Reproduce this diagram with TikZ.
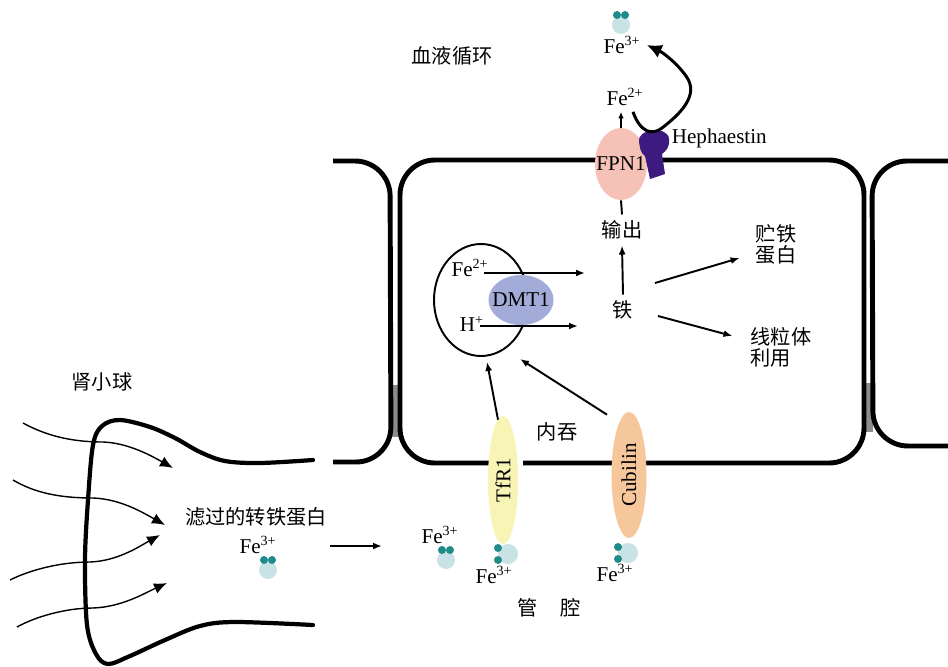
\documentclass[tikz,border=0pt]{standalone}
\usepackage{fontspec}
\setmainfont{Liberation Serif}
\newfontfamily\cjk{Noto Sans CJK SC}
\usetikzlibrary{arrows.meta,shapes.geometric}

\definecolor{fpnpink}{HTML}{F6C2B8}
\definecolor{dmtblue}{HTML}{A3ACD8}
\definecolor{tfryellow}{HTML}{F8F4B6}
\definecolor{cuborange}{HTML}{F7C79C}
\definecolor{hephpurple}{HTML}{3C1A80}
\definecolor{ironteal}{HTML}{1F8C89}
\definecolor{tfpale}{HTML}{C8E2E5}

\tikzset{
	fe flat/.pic={
		\fill[tfpale] (0,10) circle[radius=9];
		\fill[ironteal] (-4,0) circle[radius=4] (4,0) circle[radius=4];
	},
	fe upright/.pic={
		\fill[tfpale] (10,0) circle[radius=10];
		\fill[ironteal] (0,-6) circle[radius=4] (0,6) circle[radius=4];
	}
}

\begin{document}
\begin{tikzpicture}[x=0.2mm, y=-0.2mm,
		font=\fontsize{12}{14}\selectfont,
		cn/.style={font=\cjk\fontsize{11.5}{12}\selectfont},
		membrane/.style={line width=2.8pt, rounded corners=7mm},
		arr/.style={-{Latex[length=1.8mm,width=1.4mm]}, line width=1.1pt},
		inflow/.style={-{Latex[length=2.6mm,width=2.2mm]}, line width=0.8pt},
		protein/.style={ellipse, inner sep=0pt}]
	\fill[white] (0,0) rectangle (948,666);
	\useasboundingbox (0,0) rectangle (948,666);

	% junctions between neighbouring cells
	\fill[black!45] (390,385) rectangle (400,437);
	\fill[black!45] (864,383) rectangle (873,432);

	% cell membranes
	\draw[membrane] (333,161) -- (390,161) -- (391,462) -- (333,462);
	\draw[membrane] (400,160) rectangle (864,463);
	\draw[membrane] (948,161) -- (872,161) -- (873,446) -- (948,446);
	\fill[white] (517,456) rectangle (523,470);

	% glomerulus
	\draw[line width=2.4pt, line cap=round] plot[smooth, tension=0.55] coordinates {
		(313,460) (260,463) (225,461) (200,452) (175,438) (150,427) (120,420)
		(102,426) (93,445) (88,500) (85,560) (87,625) (96,654) (108,664)
		(130,656) (165,640) (200,626) (235,622) (313,625)};
	\draw[inflow] (23,423) .. controls (45,435) and (70,442) .. (103,442) .. controls (128,443) and (150,455) .. (173,468);
	\draw[inflow] (13,480) .. controls (35,493) and (60,498) .. (93,498) .. controls (120,499) and (142,512) .. (165,525);
	\draw[inflow] (10,580) .. controls (30,570) and (60,562) .. (90,562) .. controls (118,561) and (140,546) .. (160,535);
	\draw[inflow] (17,627) .. controls (35,617) and (65,608) .. (93,608) .. controls (122,607) and (145,593) .. (167,583);

	\node[cn] (glom) at (102,382) {肾小球};
	\node[cn] (blood) at (452,56) {血液循环};
	\node[cn] (filtered) at (256,517) {滤过的转铁蛋白};
	\node[cn] (endo) at (557,432) {内吞};
	\node[cn] (lumen) at (549,608) {管\hspace{1.1em}腔};

	% export through the top membrane
	\node[protein, fill=fpnpink, minimum width=10.4mm, minimum height=14.4mm] (fpn) at (621,164) {\makebox[0pt]{FPN1}};
	\fill[hephpurple] (639,142) .. controls (636,129) and (668,125) .. (669,139)
		.. controls (670,147) and (666,151) .. (662,154) -- (665,174) -- (650,179)
		-- (645,156) .. controls (640,153) and (640,147) .. (639,142) -- cycle;
	\node[anchor=west, inner sep=2pt] (heph) at (668,138) {Hephaestin};
	\node (fe2top) at (625,97) {Fe\textsuperscript{2+}};
	\node (fe3top) at (622,45) {Fe\textsuperscript{3+}};
	\pic at (621,15) {fe flat};
	\draw[-{Latex[length=1.3mm,width=1.1mm]}, line width=1.1pt] (fpn.north) -- (fpn.north |- fe2top.south);
	\draw[line width=1.7pt, -{Latex[length=3mm,width=2.8mm]}] ([shift={(8,0)}]fe2top.south) .. controls (640,132) and (652,136) .. (662,128)
		.. controls (680,114) and (700,95) .. (686,76) .. controls (676,62) and (662,52) .. (fe3top.east);

	% inside the cell
	\node[cn] (export) at (622,230) {输出};
	\node[cn] (iron) at (623,310) {铁};
	\node[cn, align=left] (ferritin) at (776,244) {贮铁\\蛋白};
	\node[cn, align=left] (mito) at (781,347) {线粒体\\利用};
	\draw[line width=1.1pt] (export.north) -- (fpn.south);
	\draw[arr] (iron.north) -- (export.south);
	\draw[arr] ([shift={(32,-27)}]iron.center) -- ([shift={(-10,14)}]ferritin.west);
	\draw[arr] ([shift={(35,6)}]iron.center) -- ([shift={(-12,-11)}]mito.west);

	\node[protein, draw, line width=1.1pt, minimum width=18.8mm, minimum height=22.4mm] (loop) at (481,300) {};
	\node[protein, fill=dmtblue, minimum width=13mm, minimum height=10mm] (dmt) at (521,300) {\makebox[0pt]{DMT1}};
	\node (fe2in) at (470,268) {Fe\textsuperscript{2+}};
	\node (hin) at (472,324) {H\textsuperscript{+}};
	\coordinate (fe2end) at (585,273);
	\coordinate (hend) at (578,326);
	\draw[arr] ([xshift=-6pt]fe2in.east |- fe2end) -- (fe2end);
	\draw[arr] ([xshift=-6pt]hin.east |- hend) -- (hend);

	% receptors in the lumen membrane
	\node[protein, fill=tfryellow, rotate=90, minimum width=25.6mm, minimum height=6mm] (tfr) at (503,480) {\makebox[0pt]{TfR1}};
	\node[protein, fill=cuborange, rotate=90, minimum width=25.2mm, minimum height=7mm] (cub) at (629,475) {\makebox[0pt]{Cubilin}};
	\draw[arr] ([shift={(-5,4)}]tfr.east) -- ([shift={(6,5)}]loop.south);
	\draw[arr] ([shift={(-22,3)}]cub.east) -- ([shift={(39,2)}]loop.south);

	% transferrin carrying iron
	\node (fe3a) at (258,545) {Fe\textsuperscript{3+}};
	\pic at (268,560) {fe flat};
	\coordinate (flowa) at (330,546);
	\coordinate (flowb) at (382,546);
	\draw[arr] (flowa) -- (flowb);
	\node (fe3b) at (440,535) {Fe\textsuperscript{3+}};
	\pic at (446,550) {fe flat};
	\pic at (498,554) {fe upright};
	\node (fe3c) at (494,575) {Fe\textsuperscript{3+}};
	\pic at (618,553) {fe upright};
	\node (fe3d) at (615,573) {Fe\textsuperscript{3+}};
\end{tikzpicture}
\end{document}
